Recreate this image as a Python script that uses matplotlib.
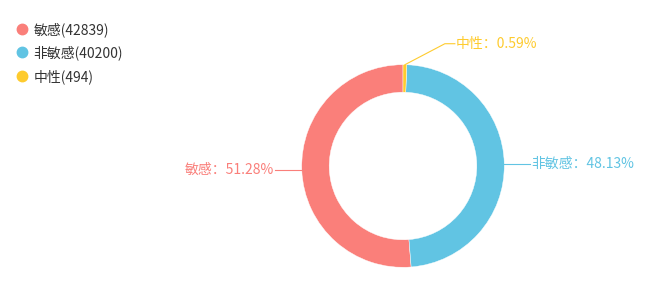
import numpy as np
import matplotlib.pyplot as plt
from matplotlib.lines import Line2D

plt.rcParams['font.family'] = ['Noto Sans CJK SC', 'DejaVu Sans']

# =========================
# Datos
# =========================
categorias = ["敏感", "非敏感", "中性"]
valores = [42839, 40200, 494]
colores = ["#fa7f7a", "#61c4e3", "#fecb2e"]

W, H = 663, 283
fig = plt.figure(figsize=(W / 100, H / 100), dpi=100)
ax = fig.add_axes([0, 0, 1, 1])

cx, cy = 403, H - 166
radio = 101.3
ancho = 27.5

wedges, _ = ax.pie(valores, colors=colores, startangle=90, counterclock=True,
                   center=(cx, cy), radius=radio,
                   wedgeprops=dict(width=ancho, edgecolor="white", linewidth=0.3))

# pie() cambia los límites: se fijan después
ax.set_xlim(0, W)
ax.set_ylim(0, H)
ax.set_aspect("equal")
ax.axis("off")

# porcentajes con método del mayor resto (suman 100.00)
total = sum(valores)
exactos = np.array(valores) / total * 10000
base = np.floor(exactos)
faltan = int(10000 - base.sum())
for i in np.argsort(-(exactos - base))[:faltan]:
    base[i] += 1
porcentajes = base / 100

# desplazamiento de cada etiqueta: (dx, dy, largo horizontal)
offsets = {
    "敏感": (0, 0, 27),
    "非敏感": (0, 0, 26),
    "中性": (40, 21, 10),
}
for w, cat, pct, col in zip(wedges, categorias, porcentajes, colores):
    ang = np.deg2rad((w.theta1 + w.theta2) / 2)
    x0 = cx + radio * np.cos(ang)
    y0 = cy + radio * np.sin(ang)
    dx, dy, l2 = offsets[cat]
    lado = 1 if np.cos(ang) >= 0 else -1
    x1, y1 = x0 + lado * dx, y0 + dy
    x2 = x1 + lado * l2
    ax.plot([x0, x1, x2], [y0, y1, y1], color=col, lw=0.8)
    texto = f"{cat}：{pct:.2f}%"
    ax.text(x2 + lado * 1, y1, texto, color=col, fontsize=10,
            ha="left" if lado > 0 else "right", va="center")

# leyenda
handles = [Line2D([0], [0], marker="o", linestyle="", markersize=7.5,
                  markerfacecolor=c, markeredgecolor=c) for c in colores]
etiquetas = [f"{c}({v})" for c, v in zip(categorias, valores)]
leg = ax.legend(handles, etiquetas, loc="upper left", bbox_to_anchor=(16 / W, 1 - 22 / H),
                frameon=False, fontsize=10, handlelength=0.8, handletextpad=0.45,
                labelspacing=0.62, borderpad=0, borderaxespad=0)
for t in leg.get_texts():
    t.set_color("#333333")

fig.savefig("out.png", dpi=100)
